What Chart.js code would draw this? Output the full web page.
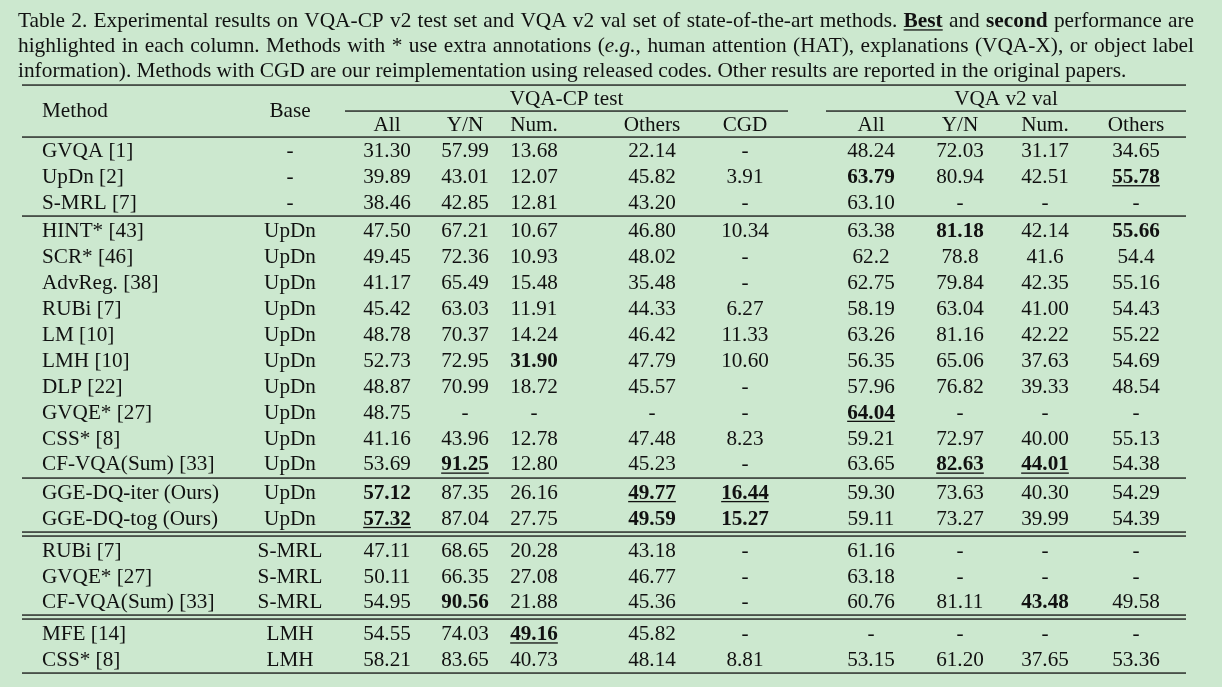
<!DOCTYPE html>
<html>
<head>
<meta charset="utf-8">
<script src="https://cdn.jsdelivr.net/npm/chart.js@4/dist/chart.umd.min.js"></script>
<style>
  html, body { margin: 0; padding: 0; background: #cce8cf; }
  canvas { display: block; }
</style>
</head>
<body>
<canvas id="resultsTable" width="1222" height="687"></canvas>
<script>
// table rows
const methods = ['GVQA [1]', 'UpDn [2]', 'S-MRL [7]', 'HINT* [43]', 'SCR* [46]', 'AdvReg. [38]', 'RUBi [7]',
  'LM [10]', 'LMH [10]', 'DLP [22]', 'GVQE* [27]', 'CSS* [8]', 'CF-VQA(Sum) [33]', 'GGE-DQ-iter (Ours)',
  'GGE-DQ-tog (Ours)', 'RUBi [7]', 'GVQE* [27]', 'CF-VQA(Sum) [33]', 'MFE [14]', 'CSS* [8]'];
const bases = ['-', '-', '-', 'UpDn', 'UpDn', 'UpDn', 'UpDn', 'UpDn', 'UpDn', 'UpDn', 'UpDn', 'UpDn', 'UpDn',
  'UpDn', 'UpDn', 'S-MRL', 'S-MRL', 'S-MRL', 'LMH', 'LMH'];
const sectionSizes = [3, 10, 2, 3, 2];
const sectionRules = ['single', 'single', 'double', 'double'];

// VQA-CP v2 test
const cpAll = ['31.30', '39.89', '38.46', '47.50', '49.45', '41.17', '45.42', '48.78', '52.73', '48.87', '48.75',
  '41.16', '53.69', '57.12', '57.32', '47.11', '50.11', '54.95', '54.55', '58.21'];
const cpYN = ['57.99', '43.01', '42.85', '67.21', '72.36', '65.49', '63.03', '70.37', '72.95', '70.99', '-',
  '43.96', '91.25', '87.35', '87.04', '68.65', '66.35', '90.56', '74.03', '83.65'];
const cpNum = ['13.68', '12.07', '12.81', '10.67', '10.93', '15.48', '11.91', '14.24', '31.90', '18.72', '-',
  '12.78', '12.80', '26.16', '27.75', '20.28', '27.08', '21.88', '49.16', '40.73'];
const cpOthers = ['22.14', '45.82', '43.20', '46.80', '48.02', '35.48', '44.33', '46.42', '47.79', '45.57', '-',
  '47.48', '45.23', '49.77', '49.59', '43.18', '46.77', '45.36', '45.82', '48.14'];
const cpCGD = ['-', '3.91', '-', '10.34', '-', '-', '6.27', '11.33', '10.60', '-', '-', '8.23', '-', '16.44',
  '15.27', '-', '-', '-', '-', '8.81'];

// VQA v2 val
const v2All = ['48.24', '63.79', '63.10', '63.38', '62.2', '62.75', '58.19', '63.26', '56.35', '57.96', '64.04',
  '59.21', '63.65', '59.30', '59.11', '61.16', '63.18', '60.76', '-', '53.15'];
const v2YN = ['72.03', '80.94', '-', '81.18', '78.8', '79.84', '63.04', '81.16', '65.06', '76.82', '-', '72.97',
  '82.63', '73.63', '73.27', '-', '-', '81.11', '-', '61.20'];
const v2Num = ['31.17', '42.51', '-', '42.14', '41.6', '42.35', '41.00', '42.22', '37.63', '39.33', '-', '40.00',
  '44.01', '40.30', '39.99', '-', '-', '43.48', '-', '37.65'];
const v2Others = ['34.65', '55.78', '-', '55.66', '54.4', '55.16', '54.43', '55.22', '54.69', '48.54', '-', '55.13',
  '54.38', '54.29', '54.39', '-', '-', '49.58', '-', '53.36'];

// header labels
const groupLabels = ['VQA-CP test', 'VQA v2 val'];
const subLabels = ['All', 'Y/N', 'Num.', 'Others', 'CGD', 'All', 'Y/N', 'Num.', 'Others'];

// best = bold + underline, second = bold  ([row, column])
const bestCells = [[1, 'v2Others'], [10, 'v2All'], [12, 'cpYN'], [12, 'v2YN'], [12, 'v2Num'],
  [13, 'cpOthers'], [13, 'cpCGD'], [14, 'cpAll'], [18, 'cpNum']];
const secondCells = [[1, 'v2All'], [3, 'v2YN'], [3, 'v2Others'], [8, 'cpNum'], [13, 'cpAll'],
  [14, 'cpOthers'], [14, 'cpCGD'], [17, 'cpYN'], [17, 'v2Num']];

const caption = [
  [{t: 'Table 2. Experimental results on VQA-CP v2 test set and VQA v2 val set of state-of-the-art methods. '},
   {t: 'Best', b: true, u: true}, {t: ' and '}, {t: 'second', b: true}, {t: ' performance are'}],
  [{t: 'highlighted in each column.  Methods with * use extra annotations ('}, {t: 'e.g.', i: true},
   {t: ', human attention (HAT), explanations (VQA-X), or object label'}],
  [{t: 'information). Methods with CGD are our reimplementation using released codes. Other results are reported in the original papers.'}]
];

// ---- layout ----
const valueCols = {cpAll, cpYN, cpNum, cpOthers, cpCGD, v2All, v2YN, v2Num, v2Others};
const valueKeys = Object.keys(valueCols);
const colX = [387, 465, 534, 652, 745, 871, 960, 1045, 1136];
const methodX = 42, baseX = 290;
const groupSpan = [[345, 788], [826, 1186]];
const tableLeft = 22, tableRight = 1186;
const captionLeft = 18, captionRight = 1194;
const captionRows = [-5.02, -4.05, -3.09];
const FS = 21.2, CAP_FS = 21.35;
const FONT = '"Liberation Serif", "Times New Roman", serif';
const INK = '#111';

// row positions in row units, small extra gap at each section rule
const rowPos = [];
const rulePos = [];
let acc = 0, r = 0;
sectionSizes.forEach((n, s) => {
  for (let k = 0; k < n; k++) { rowPos.push(r + acc); r++; }
  if (s < sectionRules.length) {
    const g = sectionRules[s] === 'double' ? 0.23 : 0.1;
    const mid = (r - 1 + acc) + (1 + g) / 2;
    if (sectionRules[s] === 'double') { rulePos.push(mid - 0.075, mid + 0.075); }
    else rulePos.push(mid);
    acc += g;
  }
});
const lastRow = rowPos[rowPos.length - 1];

function cellStyle(row, key) {
  if (bestCells.some(c => c[0] === row && c[1] === key)) return 'best';
  if (secondCells.some(c => c[0] === row && c[1] === key)) return 'second';
  return '';
}

const datasets = [
  {label: 'Method', texts: methods, x: methodX, align: 'left'},
  {label: 'Base', texts: bases, x: baseX, align: 'center'}
].concat(valueKeys.map((k, j) => ({label: k, texts: valueCols[k], x: colX[j], align: 'center'})))
 .map(d => ({
    label: d.label,
    texts: d.texts,
    align: d.align,
    data: d.texts.map((t, i) => ({x: d.x, y: rowPos[i]})),
    pointRadius: 0,
    showLine: false
 }));

function drawText(ctx, str, px, py, align, bold, italic, underline, size) {
  const fs = size || FS;
  ctx.font = (italic ? 'italic ' : '') + (bold ? 'bold ' : '') + fs + 'px ' + FONT;
  ctx.fillStyle = INK;
  ctx.textAlign = align;
  ctx.textBaseline = 'alphabetic';
  const base = py + fs * 0.34;
  ctx.fillText(str, px, base);
  if (underline) {
    const w = ctx.measureText(str).width;
    const x0 = align === 'center' ? px - w / 2 : (align === 'right' ? px - w : px);
    ctx.fillRect(x0, base + 2, w, 1.3);
  }
}

function hRule(ctx, x0, x1, py) {
  ctx.fillStyle = INK;
  ctx.fillRect(x0, Math.round(py) - 0.6, x1 - x0, 1.3);
}

function drawCaptionLine(ctx, segs, left, right, py, justify) {
  // split into words keeping style; words touching across segments are glued
  const groups = [];
  let gapPending = false;
  segs.forEach(s => {
    s.t.split(' ').forEach((p, k) => {
      if (k > 0) gapPending = true;
      if (p === '') return;
      const w = {t: p, b: s.b, i: s.i, u: s.u};
      if (gapPending || !groups.length) {
        if (groups.length) groups.push(null);
        groups.push([w]);
        gapPending = false;
      } else {
        groups[groups.length - 1].push(w);
      }
    });
  });
  const measure = w => {
    ctx.font = (w.i ? 'italic ' : '') + (w.b ? 'bold ' : '') + CAP_FS + 'px ' + FONT;
    return ctx.measureText(w.t).width;
  };
  ctx.font = CAP_FS + 'px ' + FONT;
  const spaceW = ctx.measureText(' ').width;
  let wordsW = 0, gaps = 0;
  groups.forEach(g => { if (g === null) gaps++; else g.forEach(w => wordsW += measure(w)); });
  const gapW = justify ? (right - left - wordsW) / gaps : spaceW;
  let x = left;
  groups.forEach(g => {
    if (g === null) { x += gapW; return; }
    g.forEach(w => {
      const wd = measure(w);
      drawText(ctx, w.t, x, py, 'left', w.b, w.i, w.u, CAP_FS);
      x += wd;
    });
  });
}

const tablePlugin = {
  id: 'tableText',
  beforeDraw(chart) {
    const ctx = chart.ctx;
    ctx.save();
    ctx.fillStyle = '#cce8cf';
    ctx.fillRect(0, 0, chart.width, chart.height);
    ctx.restore();
  },
  afterDatasetsDraw(chart) {
    const ctx = chart.ctx;
    const xs = chart.scales.x, ys = chart.scales.y;
    ctx.save();

    // caption
    caption.forEach((line, k) => {
      drawCaptionLine(ctx, line, xs.getPixelForValue(captionLeft), xs.getPixelForValue(captionRight),
        ys.getPixelForValue(captionRows[k]), k < caption.length - 1);
    });

    // header
    const L = xs.getPixelForValue(tableLeft), R = xs.getPixelForValue(tableRight);
    hRule(ctx, L, R, ys.getPixelForValue(-2.5));
    drawText(ctx, 'Method', xs.getPixelForValue(methodX), ys.getPixelForValue(-1.55), 'left');
    drawText(ctx, 'Base', xs.getPixelForValue(baseX), ys.getPixelForValue(-1.55), 'center');
    groupSpan.forEach((sp, g) => {
      const a = xs.getPixelForValue(sp[0]), b = xs.getPixelForValue(sp[1]);
      drawText(ctx, groupLabels[g], (a + b) / 2, ys.getPixelForValue(-2), 'center');
      hRule(ctx, a, b, ys.getPixelForValue(-1.52));
    });
    subLabels.forEach((s, j) => drawText(ctx, s, xs.getPixelForValue(colX[j]), ys.getPixelForValue(-1), 'center'));
    hRule(ctx, L, R, ys.getPixelForValue(-0.5));

    // body cells
    chart.data.datasets.forEach((ds, d) => {
      const meta = chart.getDatasetMeta(d);
      meta.data.forEach((pt, i) => {
        const st = cellStyle(i, ds.label);
        drawText(ctx, ds.texts[i], pt.x, pt.y, ds.align, st !== '', false, st === 'best');
      });
    });

    // section rules + bottom rule
    rulePos.forEach(p => hRule(ctx, L, R, ys.getPixelForValue(p)));
    hRule(ctx, L, R, ys.getPixelForValue(lastRow + 0.55));
    ctx.restore();
  }
};

// one row unit in pixels, first body row at 150px
const unit = 25.89;
const yMin = -150 / unit;
const yMax = yMin + 687 / unit;

new Chart(document.getElementById('resultsTable').getContext('2d'), {
  type: 'scatter',
  data: {datasets: datasets},
  options: {
    responsive: false,
    animation: false,
    devicePixelRatio: 1,
    layout: {padding: 0},
    plugins: {legend: {display: false}, tooltip: {enabled: false}, title: {display: false}},
    scales: {
      x: {type: 'linear', display: false, min: 0, max: 1222},
      y: {type: 'linear', display: false, reverse: true, min: yMin, max: yMax}
    }
  },
  plugins: [tablePlugin]
});
</script>
</body>
</html>
